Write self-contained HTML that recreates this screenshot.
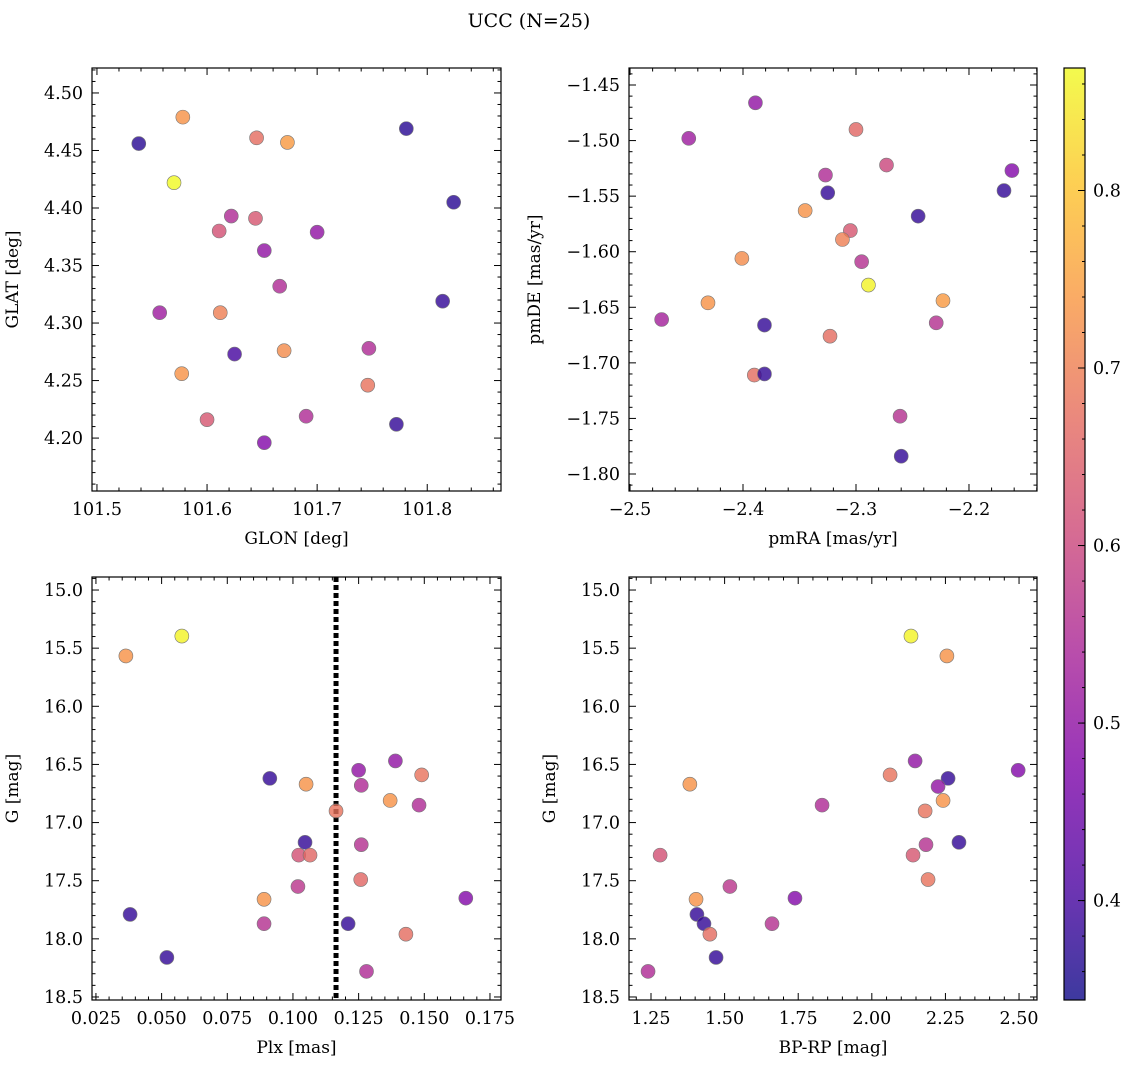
<!DOCTYPE html>
<html><head><meta charset="utf-8"><style>
body{margin:0;background:#fff}
svg{display:block;font-family:"DejaVu Serif","Liberation Serif",serif}
</style></head><body>
<svg id="fig" width="1136" height="1068" viewBox="0 0 1136 1068" xmlns="http://www.w3.org/2000/svg">
<defs><linearGradient id="cbg" x1="0" y1="1" x2="0" y2="0">
<stop offset="0" stop-color="#0d0887"/><stop offset="0.125" stop-color="#4c02a1"/><stop offset="0.25" stop-color="#7e03a8"/><stop offset="0.375" stop-color="#a82296"/><stop offset="0.5" stop-color="#cc4778"/><stop offset="0.625" stop-color="#e56b5d"/><stop offset="0.75" stop-color="#f89540"/><stop offset="0.875" stop-color="#fdc328"/><stop offset="1" stop-color="#f0f921"/></linearGradient></defs>
<text x="529" y="27" text-anchor="middle" font-size="19">UCC (N=25)</text>
</svg>
<script>
// Panel 1: GLON / GLAT
const p1x=[101.538,101.578,101.570,101.645,101.673,101.781,101.824,101.622,101.644,101.611,101.700,101.652,101.666,101.557,101.612,101.814,101.625,101.670,101.747,101.577,101.746,101.600,101.690,101.652,101.772];
const p1y=[4.456,4.479,4.422,4.461,4.457,4.469,4.405,4.393,4.391,4.380,4.379,4.363,4.332,4.309,4.309,4.319,4.273,4.276,4.278,4.256,4.246,4.216,4.219,4.196,4.212];
const p1c=[0.37,0.73,0.87,0.67,0.74,0.37,0.37,0.55,0.63,0.62,0.50,0.50,0.55,0.52,0.70,0.38,0.40,0.72,0.55,0.73,0.68,0.63,0.55,0.48,0.38];
// Panel 2: pmRA / pmDE
const p2x=[-2.448,-2.389,-2.300,-2.273,-2.162,-2.169,-2.327,-2.325,-2.245,-2.345,-2.305,-2.312,-2.401,-2.295,-2.289,-2.431,-2.223,-2.472,-2.381,-2.229,-2.323,-2.390,-2.381,-2.261,-2.260];
const p2y=[-1.498,-1.466,-1.490,-1.522,-1.527,-1.545,-1.531,-1.547,-1.568,-1.563,-1.581,-1.589,-1.606,-1.609,-1.630,-1.646,-1.644,-1.661,-1.666,-1.664,-1.676,-1.711,-1.710,-1.748,-1.784];
const p2c=[0.52,0.50,0.66,0.60,0.48,0.38,0.55,0.38,0.38,0.73,0.63,0.70,0.72,0.56,0.86,0.73,0.74,0.53,0.38,0.56,0.67,0.67,0.38,0.56,0.38];
// Panel 3: Plx / G
const p3x=[0.0364,0.0577,0.038,0.052,0.0912,0.105,0.1164,0.1046,0.1022,0.1065,0.125,0.126,0.139,0.149,0.137,0.148,0.126,0.1258,0.1019,0.089,0.1658,0.089,0.121,0.143,0.128];
const p3y=[15.567,15.396,17.79,18.16,16.62,16.67,16.90,17.17,17.28,17.28,16.55,16.68,16.47,16.59,16.81,16.85,17.19,17.49,17.55,17.66,17.65,17.87,17.87,17.96,18.28];
const p3c=[0.73,0.86,0.38,0.38,0.38,0.73,0.68,0.38,0.62,0.66,0.50,0.55,0.50,0.68,0.73,0.55,0.56,0.66,0.57,0.73,0.48,0.56,0.38,0.67,0.55];
const plxLine=0.1164;
// Panel 4: BP-RP / G
const p4x=[2.133,2.255,2.497,2.147,2.259,2.225,2.062,1.382,2.242,1.831,2.181,2.296,2.184,1.281,2.140,2.191,1.518,1.403,1.739,1.406,1.430,1.661,1.450,1.471,1.240];
const p4y=[15.396,15.567,16.55,16.47,16.62,16.69,16.59,16.67,16.81,16.85,16.90,17.17,17.19,17.28,17.28,17.49,17.55,17.66,17.65,17.79,17.87,17.87,17.96,18.16,18.28];
const p4c=[0.86,0.73,0.48,0.50,0.38,0.50,0.68,0.73,0.73,0.55,0.68,0.38,0.56,0.62,0.63,0.68,0.57,0.73,0.48,0.38,0.38,0.56,0.67,0.38,0.55];
const cbTicks=[0.4,0.5,0.6,0.7,0.8];
const cmin=0.344,cmax=0.869;

const NS="http://www.w3.org/2000/svg";
const svg=document.getElementById('fig');
function mk(tag,attrs,parent){const e=document.createElementNS(NS,tag);for(const k in attrs)e.setAttribute(k,attrs[k]);(parent||svg).appendChild(e);return e;}
const stops=[[13,8,135],[76,2,161],[126,3,168],[168,34,150],[204,71,120],[229,107,93],[248,149,64],[253,195,40],[240,249,33]];
function cmap(v){let t=(v-cmin)/(cmax-cmin);t=Math.max(0,Math.min(1,t))*8;const i=Math.min(7,Math.floor(t)),f=t-i;const a=stops[i],b=stops[i+1];return 'rgb('+a.map((c,k)=>Math.round(c+(b[k]-c)*f)).join(',')+')';}
function fmt(v,d){return (v<0?'\u2212':'')+Math.abs(v).toFixed(d);}
const TF=17.5;

function panel(o){
  const g=mk('g',{});
  
  
  const sx=v=>o.x0+(v-o.xmin)/(o.xmax-o.xmin)*(o.x1-o.x0);
  const sy=v=>o.inv? o.y0+(v-o.ymin)/(o.ymax-o.ymin)*(o.y1-o.y0) : o.y1-(v-o.ymin)/(o.ymax-o.ymin)*(o.y1-o.y0);
  if(o.vline!==undefined){const l=mk('line',{x1:sx(o.vline),x2:sx(o.vline),y1:o.y0,y2:o.y1,stroke:'#000','stroke-width':5,'stroke-dasharray':'5 3'},g);
    
    }
  for(let i=0;i<o.xs.length;i++){
    const c=mk('circle',{cx:sx(o.xs[i]),cy:sy(o.ys[i]),r:7,fill:cmap(o.cs[i]),'fill-opacity':0.8,stroke:'#777','stroke-width':0.6},g);
    
    
  }
  const fr=mk('rect',{x:o.x0,y:o.y0,width:o.x1-o.x0,height:o.y1-o.y0,fill:'none',stroke:'#000','stroke-width':1.2},g);
  
  
  const eps=1e-9;
  let n=Math.ceil((o.xmin-eps)/o.xmn);
  for(let v=n*o.xmn;v<=o.xmax+eps;v+=o.xmn){const X=sx(v);const maj=Math.abs(v/o.xmj-Math.round(v/o.xmj))<1e-6;const L=maj?7:3.5;
    mk('line',{x1:X,x2:X,y1:o.y1,y2:o.y1-L,stroke:'#000'},g);mk('line',{x1:X,x2:X,y1:o.y0,y2:o.y0+L,stroke:'#000'},g);
    if(maj){const t=mk('text',{x:X,y:o.y1+24,'text-anchor':'middle','font-size':TF},g);t.textContent=fmt(v,o.xd);
      
      }}
  n=Math.ceil((o.ymin-eps)/o.ymn);
  for(let v=n*o.ymn;v<=o.ymax+eps;v+=o.ymn){const Y=sy(v);const maj=Math.abs(v/o.ymj-Math.round(v/o.ymj))<1e-6;const L=maj?7:3.5;
    mk('line',{x1:o.x0,x2:o.x0+L,y1:Y,y2:Y,stroke:'#000'},g);mk('line',{x1:o.x1,x2:o.x1-L,y1:Y,y2:Y,stroke:'#000'},g);
    if(maj){const t=mk('text',{x:o.x0-9,y:Y+6,'text-anchor':'end','font-size':TF},g);t.textContent=fmt(v,o.yd);
      
      }}
  const xl=mk('text',{x:(o.x0+o.x1)/2,y:o.y1+53,'text-anchor':'middle','font-size':17},g);xl.textContent=o.xlab;
  
  
  const yx=o.x0-o.ylo,yy=(o.y0+o.y1)/2;
  const yl=mk('text',{x:yx,y:yy,'text-anchor':'middle','font-size':17,transform:'rotate(-90 '+yx+' '+yy+')'},g);yl.textContent=o.ylab;
  
  
}
panel({name:'glon-glat-panel',x0:92,x1:501,y0:68,y1:491,xmin:101.4955,xmax:101.867,ymin:4.154,ymax:4.5217,xmj:0.1,xmn:0.02,ymj:0.05,ymn:0.01,xd:1,yd:2,xs:p1x,ys:p1y,cs:p1c,xlab:'GLON [deg]',ylab:'GLAT [deg]',ylo:74});
panel({name:'pm-panel',x0:629,x1:1037,y0:68,y1:491,xmin:-2.5009,xmax:-2.1398,ymin:-1.8153,ymax:-1.4347,xmj:0.1,xmn:0.02,ymj:0.05,ymn:0.01,xd:1,yd:2,xs:p2x,ys:p2y,cs:p2c,xlab:'pmRA [mas/yr]',ylab:'pmDE [mas/yr]',ylo:89});
panel({name:'plx-g-panel',x0:92,x1:501,y0:577,y1:1000,xmin:0.0235,xmax:0.1792,ymin:14.888,ymax:18.526,inv:true,xmj:0.025,xmn:0.005,ymj:0.5,ymn:0.1,xd:3,yd:1,xs:p3x,ys:p3y,cs:p3c,xlab:'Plx [mas]',ylab:'G [mag]',ylo:74,vline:plxLine});
panel({name:'color-mag-panel',x0:629,x1:1037,y0:577,y1:1000,xmin:1.1753,xmax:2.561,ymin:14.888,ymax:18.526,inv:true,xmj:0.25,xmn:0.05,ymj:0.5,ymn:0.1,xd:2,yd:1,xs:p4x,ys:p4y,cs:p4c,xlab:'BP-RP [mag]',ylab:'G [mag]',ylo:74});
const cb=mk('g',{});


mk('rect',{x:1064,y:68,width:21,height:932,fill:'url(#cbg)','fill-opacity':0.8,stroke:'#000','stroke-width':1.2},cb);
const cy=v=>1000-(v-cmin)/(cmax-cmin)*932;
for(let k=Math.ceil(cmin/0.02);k*0.02<=cmax;k++){const v=k*0.02;const Y=cy(v);mk('line',{x1:1085,x2:1082,y1:Y,y2:Y,stroke:'#000'},cb);}
cbTicks.forEach(v=>{const Y=cy(v);mk('line',{x1:1085,x2:1078,y1:Y,y2:Y,stroke:'#000'},cb);
  const t=mk('text',{x:1093,y:Y+6,'font-size':TF},cb);t.textContent=v.toFixed(1);
  
  });
</script>
</body></html>
